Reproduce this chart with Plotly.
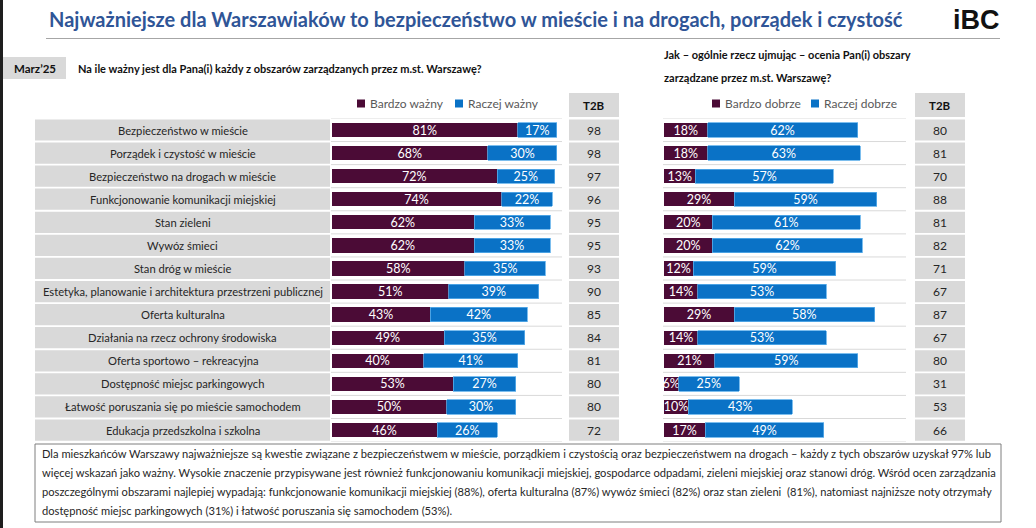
import plotly.graph_objects as go

W, H = 1036, 528

categories = [
    "Bezpieczeństwo w mieście",
    "Porządek i czystość w mieście",
    "Bezpieczeństwo na drogach w mieście",
    "Funkcjonowanie komunikacji miejskiej",
    "Stan zieleni",
    "Wywóz śmieci",
    "Stan dróg w mieście",
    "Estetyka, planowanie i architektura przestrzeni publicznej",
    "Oferta kulturalna",
    "Działania na rzecz ochrony środowiska",
    "Oferta sportowo – rekreacyjna",
    "Dostępność miejsc parkingowych",
    "Łatwość poruszania się po mieście samochodem",
    "Edukacja przedszkolna i szkolna",
]
bardzo_wazny = [81, 68, 72, 74, 62, 62, 58, 51, 43, 49, 40, 53, 50, 46]
raczej_wazny = [17, 30, 25, 22, 33, 33, 35, 39, 42, 35, 41, 27, 30, 26]
t2b_waznosc = [98, 98, 97, 96, 95, 95, 93, 90, 85, 84, 81, 80, 80, 72]
bardzo_dobrze = [18, 18, 13, 29, 20, 20, 12, 14, 29, 14, 21, 6, 10, 17]
raczej_dobrze = [62, 63, 57, 59, 61, 62, 59, 53, 58, 53, 59, 25, 43, 49]
t2b_ocena = [80, 81, 70, 88, 81, 82, 71, 67, 87, 67, 80, 31, 53, 66]

MAROON = "#4B0B36"
BLUE = "#0A72C6"
FONT = "Lato"


def px(x):
    return x / W


def py(y):
    return 1 - y / H


n = len(categories)
row0, step = 130.0, 23.08
top_px = row0 - step / 2
bot_px = row0 + (n - 0.5) * step

fig = go.Figure()

bar_common = dict(orientation="h", width=0.62, texttemplate="%{x}%",
                  textposition="inside", insidetextanchor="middle",
                  textfont=dict(color="white", size=12.5, family=FONT),
                  showlegend=False, hoverinfo="skip")

fig.add_trace(go.Bar(y=categories, x=bardzo_wazny, name="Bardzo ważny",
                     marker=dict(color=MAROON, line=dict(width=0)),
                     xaxis="x", yaxis="y", **bar_common))
fig.add_trace(go.Bar(y=categories, x=raczej_wazny, name="Raczej ważny",
                     marker=dict(color=BLUE, line=dict(color="#5BAEEA", width=0.8)),
                     xaxis="x", yaxis="y", **bar_common))
fig.add_trace(go.Bar(y=categories, x=bardzo_dobrze, name="Bardzo dobrze",
                     marker=dict(color=MAROON, line=dict(width=0)),
                     xaxis="x2", yaxis="y2", **bar_common))
fig.add_trace(go.Bar(y=categories, x=raczej_dobrze, name="Raczej dobrze",
                     marker=dict(color=BLUE, line=dict(color="#5BAEEA", width=0.8)),
                     xaxis="x2", yaxis="y2", **bar_common))

ydom = [py(bot_px), py(top_px)]
L0, Lscale = 331.5, 2.30
R0, Rscale = 664.0, 2.42

axis_hidden = dict(showgrid=False, zeroline=False, showticklabels=False,
                   showline=False, ticks="", fixedrange=True)

shapes = []
annotations = []

# left dark strip
shapes.append(dict(type="rect", xref="paper", yref="paper", x0=0, x1=px(3), y0=0, y1=1,
                   fillcolor="#1e1e1e", line=dict(width=0), layer="below"))

# title
annotations.append(dict(text="<b>Najważniejsze dla Warszawiaków to bezpieczeństwo w mieście i na drogach, porządek i czystość</b>",
                        x=px(47), y=py(19), xref="paper", yref="paper", xanchor="left", yanchor="middle",
                        showarrow=False, font=dict(family=FONT, size=20, color="#2F5597")))
shapes.append(dict(type="line", xref="paper", yref="paper", x0=px(46), x1=px(1000), y0=py(38.5), y1=py(38.5),
                   line=dict(color="#A6A6A6", width=1.2)))
# logo
annotations.append(dict(text="<b>iBC</b>", x=px(976), y=py(20), xref="paper", yref="paper",
                        xanchor="center", yanchor="middle", showarrow=False,
                        font=dict(family="Liberation Sans", size=27, color="#111111")))

# Marz'25 box
shapes.append(dict(type="rect", xref="paper", yref="paper", x0=px(3), x1=px(66), y0=py(79), y1=py(57),
                   fillcolor="#D9D9D9", line=dict(width=0), layer="below"))
annotations.append(dict(text="<b>Marz’25</b>", x=px(34.5), y=py(68), xref="paper", yref="paper",
                        xanchor="center", yanchor="middle", showarrow=False,
                        font=dict(family=FONT, size=11.5, color="#111111")))
annotations.append(dict(text="<b>Na ile ważny jest dla Pana(i) każdy z obszarów zarządzanych przez m.st. Warszawę?</b>",
                        x=px(76), y=py(68), xref="paper", yref="paper", xanchor="left", yanchor="middle",
                        showarrow=False, font=dict(family=FONT, size=11, color="#111111")))
annotations.append(dict(text="<b>Jak – ogólnie rzecz ujmując – ocenia Pan(i) obszary</b>",
                        x=px(662), y=py(55), xref="paper", yref="paper", xanchor="left", yanchor="middle",
                        showarrow=False, font=dict(family=FONT, size=11, color="#111111")))
annotations.append(dict(text="<b>zarządzane przez m.st. Warszawę?</b>",
                        x=px(662), y=py(77), xref="paper", yref="paper", xanchor="left", yanchor="middle",
                        showarrow=False, font=dict(family=FONT, size=11, color="#111111")))

# legends (custom)
def legend_item(x, label, color, y=103.5):
    shapes.append(dict(type="rect", xref="paper", yref="paper", x0=px(x), x1=px(x + 8),
                       y0=py(y + 4), y1=py(y - 4), fillcolor=color, line=dict(width=0)))
    annotations.append(dict(text=label, x=px(x + 11), y=py(y), xref="paper", yref="paper",
                            xanchor="left", yanchor="middle", showarrow=False,
                            font=dict(family=FONT, size=12, color="#595959")))

legend_item(357, "Bardzo ważny", MAROON)
legend_item(455, "Raczej ważny", BLUE)
legend_item(712, "Bardzo dobrze", MAROON)
legend_item(811, "Raczej dobrze", BLUE)

# T2B headers
for (x0, x1) in [(569, 619), (915, 965)]:
    shapes.append(dict(type="rect", xref="paper", yref="paper", x0=px(x0), x1=px(x1),
                       y0=py(117), y1=py(93), fillcolor="#D9D9D9", line=dict(width=0), layer="below"))
    annotations.append(dict(text="<b>T2B</b>", x=px((x0 + x1) / 2), y=py(105), xref="paper", yref="paper",
                            xanchor="center", yanchor="middle", showarrow=False,
                            font=dict(family=FONT, size=11.5, color="#111111")))

# rows
for i, cat in enumerate(categories):
    shapes.append(dict(type="rect", xref="paper", yref="y", x0=px(35), x1=px(330),
                       y0=i - 0.46, y1=i + 0.46, fillcolor="#D9D9D9", line=dict(width=0), layer="below"))
    annotations.append(dict(text=cat, x=px(182.5), y=cat, xref="paper", yref="y",
                            xanchor="center", yanchor="middle", showarrow=False,
                            font=dict(family=FONT, size=11.2, color="#262626")))
    for (x0, x1), val in [((569, 619), t2b_waznosc[i]), ((915, 965), t2b_ocena[i])]:
        shapes.append(dict(type="rect", xref="paper", yref="y", x0=px(x0), x1=px(x1),
                           y0=i - 0.46, y1=i + 0.46, fillcolor="#D9D9D9", line=dict(width=0), layer="below"))
        annotations.append(dict(text=str(val), x=px((x0 + x1) / 2), y=cat, xref="paper", yref="y",
                                xanchor="center", yanchor="middle", showarrow=False,
                                font=dict(family=FONT, size=12, color="#262626")))

for i in range(n + 1):
    yb = i - 0.5
    for (x0, x1) in [(331, 562), (663, 906)]:
        shapes.append(dict(type="line", xref="paper", yref="y", x0=px(x0), x1=px(x1),
                           y0=yb, y1=yb, line=dict(color="#D9D9D9", width=1), layer="below"))

# text box
shapes.append(dict(type="rect", xref="paper", yref="paper", x0=px(35), x1=px(1001),
                   y0=py(522), y1=py(444), line=dict(color="#7F7F7F", width=1), fillcolor="rgba(0,0,0,0)"))
box_lines = [
    "Dla mieszkańców Warszawy najważniejsze są kwestie związane z bezpieczeństwem w mieście, porządkiem i czystością oraz bezpieczeństwem na drogach – każdy z tych obszarów uzyskał 97% lub",
    "więcej wskazań jako ważny. Wysokie znaczenie przypisywane jest również funkcjonowaniu komunikacji miejskiej, gospodarce odpadami, zieleni miejskiej oraz stanowi dróg. Wśród ocen zarządzania",
    "poszczególnymi obszarami najlepiej wypadają: funkcjonowanie komunikacji miejskiej (88%), oferta kulturalna (87%) wywóz śmieci (82%) oraz stan zieleni  (81%), natomiast najniższe noty otrzymały",
    "dostępność miejsc parkingowych (31%) i łatwość poruszania się samochodem (53%).",
]
for k, line in enumerate(box_lines):
    annotations.append(dict(text=line, x=px(40), y=py(453 + k * 19.2), xref="paper", yref="paper",
                            xanchor="left", yanchor="middle", showarrow=False,
                            font=dict(family=FONT, size=11.15, color="#262626")))

fig.update_layout(
    width=W, height=H,
    margin=dict(l=0, r=0, t=0, b=0),
    paper_bgcolor="white", plot_bgcolor="rgba(0,0,0,0)",
    barmode="stack", bargap=0.4,
    uniformtext=dict(minsize=12, mode="show"),
    xaxis=dict(domain=[px(L0), px(L0 + 100 * Lscale)], range=[0, 100], **axis_hidden),
    xaxis2=dict(domain=[px(R0), px(R0 + 100 * Rscale)], range=[0, 100], anchor="y2", **axis_hidden),
    yaxis=dict(domain=ydom, type="category", categoryorder="array", categoryarray=categories,
               range=[n - 0.5, -0.5], **axis_hidden),
    yaxis2=dict(domain=ydom, type="category", categoryorder="array", categoryarray=categories,
                range=[n - 0.5, -0.5], anchor="x2", overlaying="y", **axis_hidden),
    shapes=shapes,
    annotations=annotations,
    showlegend=False,
    font=dict(family=FONT),
)

fig.write_html("out.html")
